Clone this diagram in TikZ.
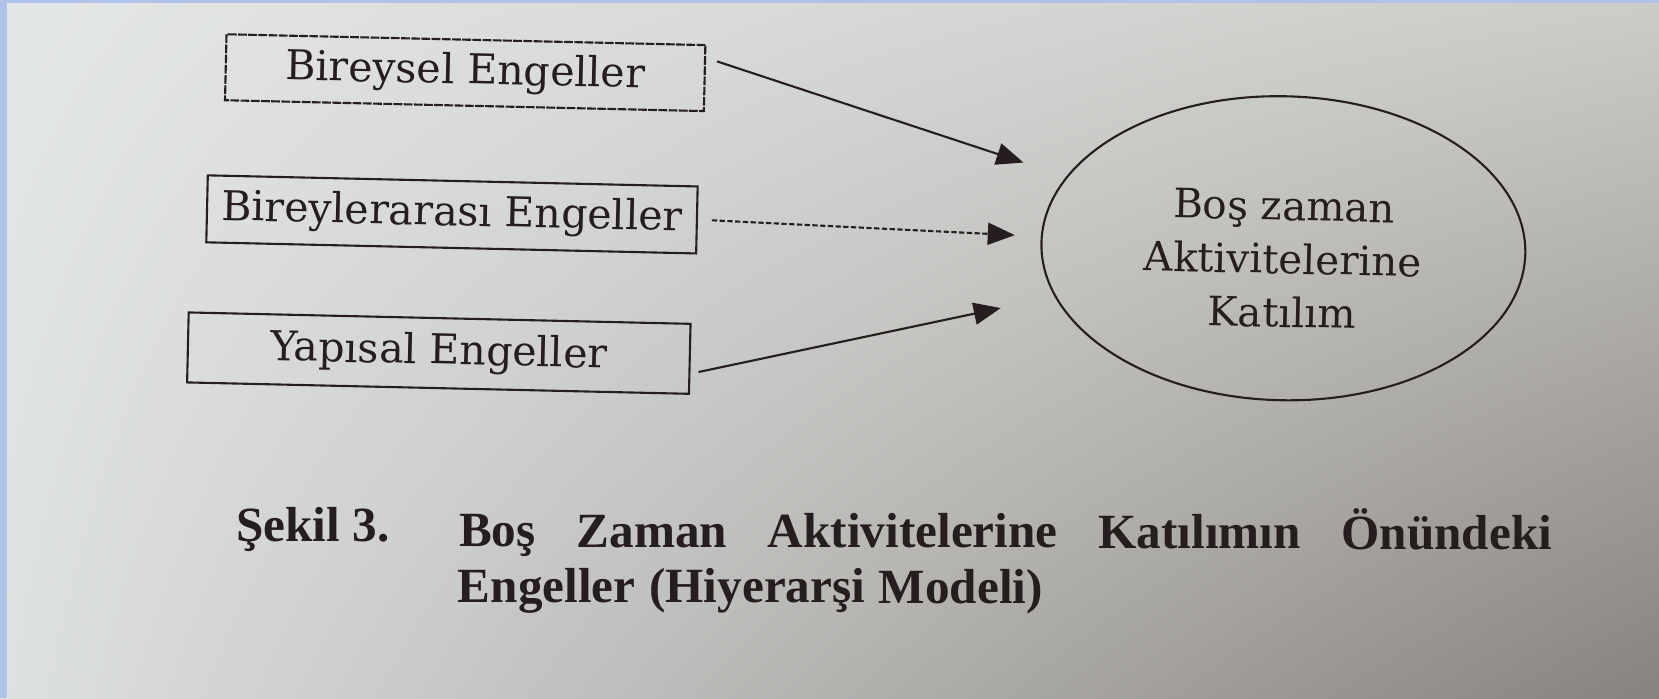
\documentclass[tikz,border=0pt]{standalone}
\usepackage{fontspec}
\setmainfont{Liberation Serif}
\newfontfamily\kutufont{DejaVu Serif}
\usetikzlibrary{arrows.meta,shapes.geometric,shadings}
\definecolor{ink}{RGB}{38,30,30}
\definecolor{kagitsol}{RGB}{228,231,231}
\definecolor{kagitsag}{RGB}{204,204,200}
\definecolor{kagitalt}{RGB}{222,225,225}
\definecolor{golge}{RGB}{135,130,125}
\definecolor{kenar}{RGB}{175,195,232}

\begin{document}
\begin{tikzpicture}[
    every node/.style={text=ink},
    engel/.style={draw=ink, line width=0.6pt, inner sep=0pt, font=\kutufont\fontsize{11.7}{14}\selectfont},
    hedef/.style={draw=ink, ellipse, line width=0.6pt, inner sep=0pt, minimum width=4.84cm, minimum height=3.04cm},
    hedefyazi/.style={align=center, inner sep=0pt, font=\kutufont\fontsize{11.5}{15.2}\selectfont},
    altyazi/.style={inner sep=0pt, anchor=base west, font=\bfseries\fontsize{14}{16}\selectfont},
    ok/.style={draw=ink, line width=0.6pt, -{Triangle[length=0.27cm,width=0.22cm]}}
]
    \useasboundingbox (0,0) rectangle (16.59,6.98);
    \shade[upper left=kagitsol, upper right=kagitsag, lower left=kagitalt, lower right=golge] (0,0) rectangle (16.59,6.98);
    \fill[kenar] (0,0) rectangle (0.07,6.98);
    \fill[kenar] (0,6.95) rectangle (16.59,6.98);
    \begin{scope}[rotate around={-1.3:(8.3,3.49)}, transform shape]
    \node[engel, minimum width=4.79cm, minimum height=0.66cm, dash pattern=on 2.5pt off 0.4pt] (bireysel) at (4.59,6.17) {Bireysel Engeller};
    \node[engel, minimum width=4.90cm, minimum height=0.67cm] (bireylerarasi) at (4.49,4.75) {Bireylerarası Engeller};
    \node[engel, minimum width=5.02cm, minimum height=0.70cm] (yapisal) at (4.39,3.36) {Yapısal Engeller};
    \node[hedef] (katilim) at (12.81,4.60) {};
    \node[hedefyazi] (katilimyazi) at ([yshift=-0.11cm]katilim.center) {Boş zaman\\Aktivitelerine\\Katılım};
    \draw[ok, shorten >=0.45cm] ([xshift=0.11cm,yshift=0.17cm]bireysel.east) -- (katilim);
    \draw[ok, shorten >=0.26cm, dash pattern=on 1.5pt off 0.7pt] ([xshift=0.14cm]bireylerarasi.east) -- (katilim);
    \draw[ok, shorten >=0.55cm] ([xshift=0.08cm,yshift=-0.13cm]yapisal.east) -- (katilim);
    \end{scope}
    \begin{scope}[rotate around={-1.3:(8.3,3.49)}]
    \node[altyazi] (sekil) at (2.40,1.435) {Şekil 3.};
    \node[altyazi] (bos) at (4.63,1.435) {Boş};
    \node[altyazi] (zaman) at ([xshift=0.395cm]bos.base east) {Zaman};
    \node[altyazi] (aktivite) at ([xshift=0.395cm]zaman.base east) {Aktivitelerine};
    \node[altyazi] (katilimin) at ([xshift=0.395cm]aktivite.base east) {Katılımın};
    \node[altyazi] (onundeki) at ([xshift=0.395cm]katilimin.base east) {Önündeki};
    \node[altyazi] (engeller) at (4.63,0.87) {Engeller};
    \node[altyazi] (hiyerarsi) at ([xshift=0.123cm]engeller.base east) {(Hiyerarşi};
    \node[altyazi] (modeli) at ([xshift=0.123cm]hiyerarsi.base east) {Modeli)};
    \end{scope}
\end{tikzpicture}
\end{document}
